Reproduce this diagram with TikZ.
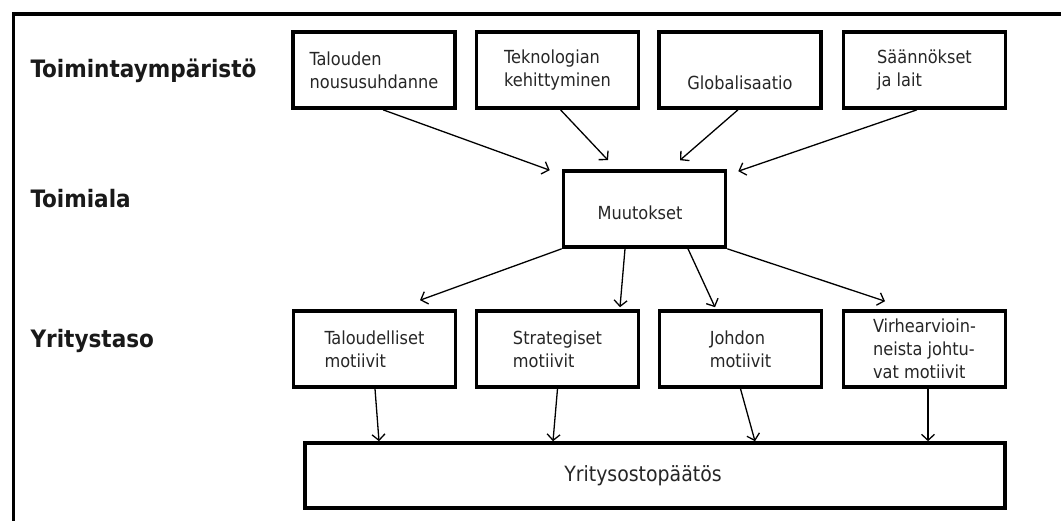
\documentclass[tikz,border=0pt]{standalone}
\usepackage{fontspec}
\setmainfont{DejaVu Sans Condensed}
\usetikzlibrary{arrows.meta,calc}
\begin{document}
\begin{tikzpicture}[x=1pt,y=-1pt,
  box/.style={draw, line width=3.6pt, rectangle, minimum width=162pt, minimum height=76pt,
    inner sep=0pt, align=left, font=\fontsize{18}{23}\selectfont, text=black!85},
  lvl/.style={anchor=base west, font=\bfseries\fontsize{24}{28}\selectfont, text=black!90},
  arr/.style={line width=1.3pt, -{Straight Barb[length=6pt,width=13pt,line width=1.3pt]}}]
\useasboundingbox (0,0) rectangle (1061,521);

% outer frame (open to the right and bottom)
\draw[line width=3.6pt] (13.5,530) -- (13.5,14) -- (1070,14);

% level headings
\node[lvl] (h1) at (27,78) {Toimintaympäristö};
\node[lvl] (h2) at (27,208) {Toimiala};
\node[lvl] (h3) at (27,348) {Yritystaso};

% environment factors
\node[box] (t1) at (374,70) {Talouden\\noususuhdanne};
\node[box] (t2) at (557.5,70) {Teknologian\\kehittyminen};
\node[box] (t3) at (740,70) {\raisebox{-13pt}[\height][\depth]{Globalisaatio}};
\node[box] (t4) at (924.5,70) {Säännökset\\ja lait};

% industry level
\node[box] (m) at (644.5,209) {\hspace*{-9pt}\raisebox{-4pt}[\height][\depth]{Muutokset}};

% company level motives
\node[box] (b1) at (374.5,349) {Taloudelliset\\motiivit};
\node[box] (b2) at (557.5,349) {Strategiset\\motiivit};
\node[box] (b3) at (740.5,349) {Johdon\\motiivit};
\node[box] (b4) at (924.5,349) {Virhearvioin-\\neista johtu-\\vat motiivit};

% decision
\node[box, minimum width=700pt, minimum height=65pt, font=\fontsize{21}{25}\selectfont]
  (y) at (655,475.5) {\hspace*{-24pt}Yritysostopäätös};

% factors -> changes
\draw[arr] ($(t1.south)+(9,0)$) -- ($(m.north west)+(-12,1)$);
\draw[arr] ($(t2.south)+(3,0)$) -- ($(m.north)+(-36.5,-9)$);
\draw[arr] ($(t3.south)+(-2,0)$) -- ($(m.north)+(35.5,-9)$);
\draw[arr] ($(t4.south)+(-7.5,0)$) -- ($(m.north east)+(11,2)$);

% changes -> motives
\draw[arr] (m.south west) -- ($(b1.north)+(45.5,-9)$);
\draw[arr] ($(m.south)+(-19.5,0)$) -- ($(b2.north)+(62.5,-2)$);
\draw[arr] ($(m.south)+(43.5,0)$) -- ($(b3.north)+(-25.5,-2)$);
\draw[arr] (m.south east) -- ($(b4.north)+(-39.5,-8)$);

% motives -> decision
\draw[arr] ($(b1.south)+(0.5,0)$) -- ($(y.north)+(-276,0)$);
\draw[arr] (b2.south) -- ($(y.north)+(-102,0)$);
\draw[arr] (b3.south) -- ($(y.north)+(100,0)$);
\draw[arr] ($(b4.south)+(3.5,0)$) -- ($(y.north)+(273,0)$);
\end{tikzpicture}
\end{document}
